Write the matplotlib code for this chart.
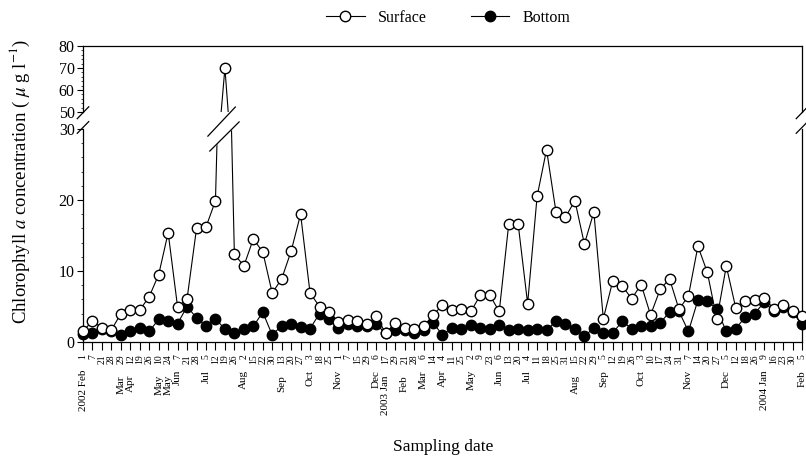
import matplotlib
matplotlib.use("Agg")
import matplotlib.pyplot as plt
import numpy as np
from matplotlib.lines import Line2D
from matplotlib.ticker import MultipleLocator

plt.rcParams['font.family'] = ['Liberation Serif', 'DejaVu Serif']
plt.rcParams['mathtext.fontset'] = 'stix'

# month label (only where a month starts) and day of each sampling
months = ["2002 Feb", "", "", "", "Mar", "Apr", "", "", "May", "May", "Jun", "", "",
          "Jul", "", "", "", "Aug", "", "", "", "Sep", "", "", "Oct", "", "",
          "Nov", "", "", "", "Dec", "2003 Jan", "", "Feb", "", "Mar", "",
          "Apr", "", "", "May", "", "", "Jun", "", "", "Jul", "", "", "", "",
          "Aug", "", "", "Sep", "", "", "", "Oct", "", "", "", "",
          "Nov", "", "", "", "Dec", "", "", "", "2004 Jan", "", "", "", "Feb"]
days = ["1", "7", "21", "28", "29", "12", "19", "26", "10", "24", "7", "21", "28",
        "5", "12", "19", "26", "2", "15", "22", "30", "13", "20", "27", "3", "18", "25",
        "1", "7", "15", "29", "6", "17", "29", "21", "28", "6", "14",
        "4", "11", "25", "2", "9", "23", "6", "13", "20", "4", "11", "18", "25", "31",
        "15", "22", "29", "5", "12", "19", "26", "3", "10", "17", "24", "31",
        "7", "14", "20", "27", "5", "12", "18", "26", "9", "16", "23", "30", "5"]

surface = [1.5, 3.0, 2.0, 1.7, 4.0, 4.5, 4.5, 6.4, 9.5, 15.4, 4.9, 6.1, 16.0, 16.2, 19.9,
           70.0,
           12.4, 10.7, 14.5, 12.7, 6.9, 8.9, 12.8, 18.0, 6.9, 5.0, 4.2, 2.8, 3.1, 3.0,
           2.5, 3.6, 1.2, 2.7, 2.0, 1.8, 2.2, 3.8, 5.2, 4.5, 4.6, 4.3, 6.6, 6.6, 4.3,
           16.6, 16.6, 5.4, 20.5, 27.1, 18.3, 17.6, 19.9, 13.8, 18.3,
           3.3, 8.6, 7.9, 6.1, 8.1, 3.8, 7.4, 8.9, 4.6, 6.5, 13.5, 9.8, 3.2, 10.7,
           4.8, 5.8, 5.9, 6.2, 4.7, 5.2, 4.4, 3.7]
bottom = [1.1, 1.2, 1.9, 1.5, 1.0, 1.6, 2.0, 1.5, 3.2, 2.9, 2.6, 5.0, 3.4, 2.2, 3.3,
          1.8, 1.2, 1.8, 2.2, 4.2, 1.0, 2.3, 2.6, 2.1, 1.9, 4.0, 3.3, 2.0, 2.5, 2.2,
          2.2, 2.5, 1.2, 1.7, 1.7, 1.2, 1.7, 2.7, 1.0, 2.0, 1.8, 2.4, 2.0, 1.9, 2.4,
          1.7, 1.9, 1.7, 1.8, 1.7, 2.9, 2.5, 1.9, 0.8, 2.0,
          1.3, 1.3, 2.9, 1.9, 2.2, 2.3, 2.7, 4.2, 4.3, 1.5, 5.9, 5.8, 4.6, 1.5,
          1.9, 3.5, 4.0, 5.6, 4.4, 5.0, 4.2, 2.5]

x = np.arange(len(days))
surface = np.array(surface)
bottom = np.array(bottom)

fig = plt.figure(figsize=(8.06, 4.63), dpi=100)
ax_top = fig.add_axes([0.103, 0.758, 0.892, 0.1425])
ax_bot = fig.add_axes([0.103, 0.2613, 0.892, 0.460])

for ax, (lo, hi) in [(ax_top, (50, 80)), (ax_bot, (0, 30))]:
    ax.plot(x, bottom, '-', color='k', lw=0.8, zorder=2)
    ax.plot(x, surface, '-', color='k', lw=0.8, zorder=2)
    ax.plot(x, np.ma.masked_outside(bottom, lo, hi), 'o', ls='none', mfc='k', mec='k',
            ms=7.5, clip_on=False, zorder=3)
    ax.plot(x, np.ma.masked_outside(surface, lo, hi), 'o', ls='none', mfc='w', mec='k',
            mew=1.0, ms=7.5, clip_on=False, zorder=4)
    ax.set_xlim(0, len(days) - 1)
    ax.set_ylim(lo, hi)
    ax.set_yticks(np.arange(lo, hi + 1, 10))
    ax.yaxis.set_minor_locator(MultipleLocator(2))
    ax.tick_params(axis='y', direction='out', length=4, width=0.8, labelsize=11.5, pad=2)
    ax.tick_params(axis='y', which='minor', length=1.5, width=0.5)
    for s in ax.spines.values():
        s.set_linewidth(0.9)

ax_top.spines['bottom'].set_visible(False)
ax_top.set_xticks([])
ax_bot.spines['top'].set_visible(False)

ax_bot.set_xticks(x)
ax_bot.set_xticklabels(days, rotation=90, fontsize=7)
ax_bot.tick_params(axis='x', direction='out', length=6, width=0.8, pad=3)

# month / year labels below the day numbers
for i, (m, d) in enumerate(zip(months, days)):
    if m:
        off = 15 + 5 * len(d) + 8
        ax_bot.annotate(m, xy=(i, 0), xycoords=('data', 'axes fraction'),
                        xytext=(0, -off), textcoords='offset pixels',
                        rotation=90, ha='center', va='top', fontsize=8)

# axis break marks on the spines
kw = dict(color='k', lw=0.9, clip_on=False)
for xs in (0, 1):
    ax_top.plot([xs - 0.008, xs + 0.008], [-0.10, 0.08], transform=ax_top.transAxes, **kw)
    ax_bot.plot([xs - 0.008, xs + 0.008], [0.98, 1.035], transform=ax_bot.transAxes, **kw)

# break marks across the data lines at the peak
p = int(np.argmax(surface))
s1 = np.array([[p - 1.8, 29.0], [p + 1.1, 33.1]])
s2 = np.array([[p - 1.6, 26.9], [p + 1.5, 31.0]])
ax_bot.fill(np.r_[s1[:, 0], s2[::-1, 0]], np.r_[s1[:, 1], s2[::-1, 1]],
            color='w', zorder=5, clip_on=False)
ax_bot.plot(s1[:, 0], s1[:, 1], zorder=6, **kw)
ax_bot.plot(s2[:, 0], s2[:, 1], zorder=6, **kw)

fig.text(0.025, 0.607, 'Chlorophyll $a$ concentration ( $\\mu$ g l$^{-1}$)',
         rotation=90, ha='center', va='center', fontsize=13.5)
fig.text(0.55, 0.035, 'Sampling date', ha='center', va='center', fontsize=12.5)

handles = [Line2D([], [], color='k', lw=0.8, marker='o', mfc='w', mec='k', ms=7.5),
           Line2D([], [], color='k', lw=0.8, marker='o', mfc='k', mec='k', ms=7.5)]
fig.legend(handles, ['Surface', 'Bottom'], loc='center', ncol=2, frameon=False,
           bbox_to_anchor=(0.556, 0.961), fontsize=11.5, handlelength=2.4,
           columnspacing=2.8, handletextpad=0.8)

fig.savefig('out.png', dpi=100)
